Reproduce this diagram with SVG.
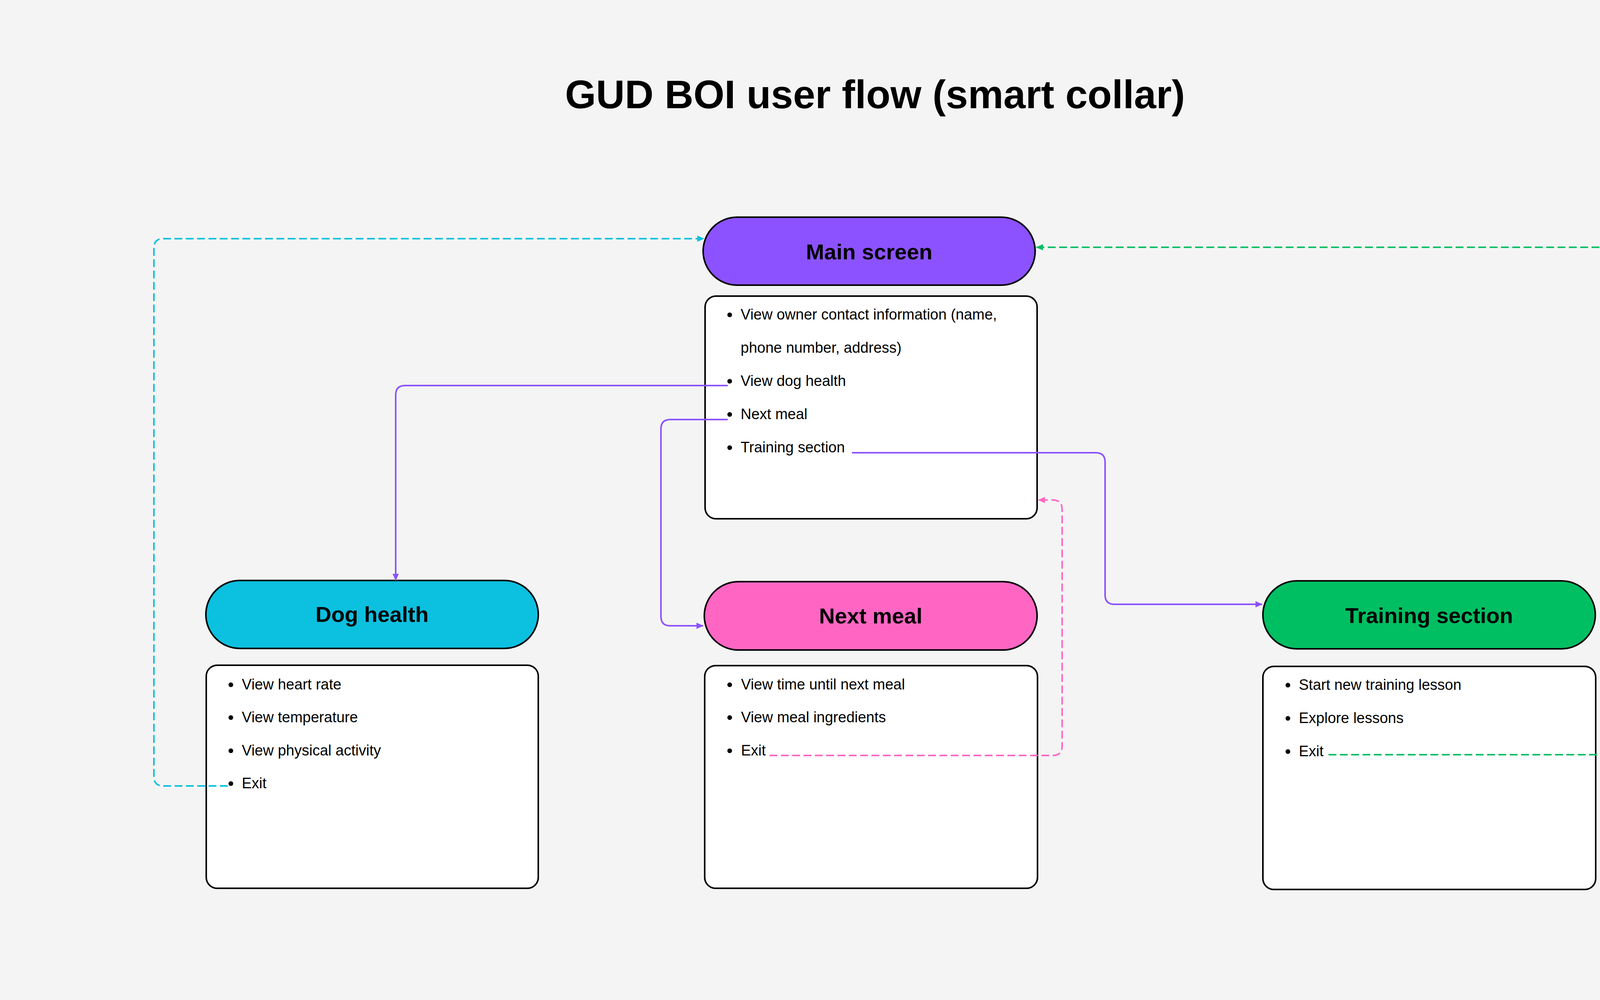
<svg xmlns="http://www.w3.org/2000/svg" width="4480" height="2560" viewBox="0 0 4480 2560">
<style>
.pill{stroke:#000;stroke-width:4}
.box{fill:#fff;stroke:#000;stroke-width:4}
.hd{font-family:"Liberation Sans",Arial,sans-serif;font-weight:bold;font-size:56px;fill:#000;text-anchor:middle}
.tx{font-family:"Liberation Sans",Arial,sans-serif;font-size:38px;fill:#000}
.title{font-family:"Liberation Sans",Arial,sans-serif;font-weight:bold;font-size:102px;fill:#000;text-anchor:middle}
.c{fill:none;stroke-width:4}
.dash{stroke-dasharray:20 9}
</style>
<defs>
<marker id="aP" markerUnits="userSpaceOnUse" markerWidth="18" markerHeight="16" refX="17" refY="8" orient="auto"><path d="M0,0 L18,8 L0,16 Z" fill="#8C52FF"/></marker>
<marker id="aC" markerUnits="userSpaceOnUse" markerWidth="18" markerHeight="16" refX="17" refY="8" orient="auto"><path d="M0,0 L18,8 L0,16 Z" fill="#0CC0DF"/></marker>
<marker id="aK" markerUnits="userSpaceOnUse" markerWidth="18" markerHeight="16" refX="17" refY="8" orient="auto"><path d="M0,0 L18,8 L0,16 Z" fill="#FF66C4"/></marker>
<marker id="aG" markerUnits="userSpaceOnUse" markerWidth="18" markerHeight="16" refX="17" refY="8" orient="auto"><path d="M0,0 L18,8 L0,16 Z" fill="#00BF63"/></marker>
</defs>
<rect width="4480" height="2560" fill="#F4F4F4"/>
<text class="title" x="2240" y="277">GUD BOI user flow (smart collar)</text>

<g id="main-screen">
<rect class="pill" x="1800" y="556" width="850" height="174" rx="87" fill="#8C52FF"/>
<text class="hd" x="2225" y="664">Main screen</text>
<rect class="box" x="1805" y="758" width="850" height="570" rx="28"/>
<circle cx="1868" cy="806" r="6"/><text class="tx" x="1896" y="818">View owner contact information (name,</text>
<text class="tx" x="1896" y="903">phone number, address)</text>
<circle cx="1868" cy="976" r="6"/><text class="tx" x="1896" y="988">View dog health</text>
<circle cx="1868" cy="1061" r="6"/><text class="tx" x="1896" y="1073">Next meal</text>
<circle cx="1868" cy="1146" r="6"/><text class="tx" x="1896" y="1158">Training section</text>
</g>

<g id="dog-health">
<rect class="pill" x="527" y="1486" width="851" height="174" rx="87" fill="#0CC0DF"/>
<text class="hd" x="952.5" y="1592">Dog health</text>
<rect class="box" x="528" y="1703" width="850" height="571" rx="28"/>
<circle cx="591" cy="1753" r="6"/><text class="tx" x="619" y="1765">View heart rate</text>
<circle cx="591" cy="1837" r="6"/><text class="tx" x="619" y="1849">View temperature</text>
<circle cx="591" cy="1922" r="6"/><text class="tx" x="619" y="1934">View physical activity</text>
<circle cx="591" cy="2006" r="6"/><text class="tx" x="619" y="2018">Exit</text>
</g>

<g id="next-meal">
<rect class="pill" x="1803" y="1489" width="852" height="175" rx="87.5" fill="#FF66C4"/>
<text class="hd" x="2229" y="1596">Next meal</text>
<rect class="box" x="1804" y="1704" width="852" height="570" rx="28"/>
<circle cx="1868" cy="1753" r="6"/><text class="tx" x="1897" y="1765">View time until next meal</text>
<circle cx="1868" cy="1837" r="6"/><text class="tx" x="1897" y="1849">View meal ingredients</text>
<circle cx="1868" cy="1922" r="6"/><text class="tx" x="1897" y="1934">Exit</text>
</g>

<g id="training-section">
<rect class="pill" x="3233" y="1487" width="851" height="174" rx="87" fill="#00BF63"/>
<text class="hd" x="3658.5" y="1595">Training section</text>
<rect class="box" x="3233" y="1706" width="852" height="571" rx="28"/>
<circle cx="3297" cy="1754" r="6"/><text class="tx" x="3325" y="1766">Start new training lesson</text>
<circle cx="3297" cy="1839" r="6"/><text class="tx" x="3325" y="1851">Explore lessons</text>
<circle cx="3297" cy="1924" r="6"/><text class="tx" x="3325" y="1936">Exit</text>
</g>

<g id="connectors">
<path class="c" stroke="#8C52FF" marker-end="url(#aP)" d="M1863,987 H1037 Q1013,987 1013,1011 V1486"/>
<path class="c" stroke="#8C52FF" marker-end="url(#aP)" d="M1863,1074 H1716 Q1692,1074 1692,1098 V1578 Q1692,1602 1716,1602 H1800"/>
<path class="c" stroke="#8C52FF" marker-end="url(#aP)" d="M2181,1159 H2805 Q2829,1159 2829,1183 V1523 Q2829,1547 2853,1547 H3231"/>
<path class="c dash" stroke="#0CC0DF" marker-end="url(#aC)" d="M583,2012 H418 Q394,2012 394,1988 V635 Q394,611 418,611 H1802"/>
<path class="c dash" stroke="#FF66C4" marker-end="url(#aK)" d="M1970,1934 H2695 Q2719,1934 2719,1910 V1304 Q2719,1280 2695,1280 H2658"/>
<path class="c dash" stroke="#00BF63" marker-end="url(#aG)" d="M3401,1932 H4171 Q4195,1932 4195,1908 V657 Q4195,633 4171,633 H2653"/>
</g>
</svg>
